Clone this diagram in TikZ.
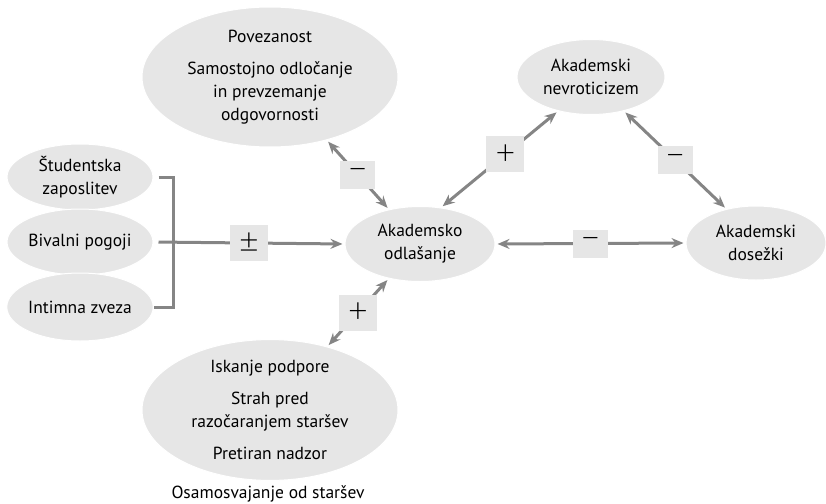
\documentclass[tikz,border=0pt]{standalone}
\usepackage{fontspec}
\setmainfont{PT Sans}
\newfontfamily\signfont{Lato Light}
\usetikzlibrary{shapes.geometric,arrows.meta}
\definecolor{ovalgray}{HTML}{E6E6E6}
\definecolor{linkgray}{HTML}{858585}
\tikzset{
    >={Stealth[length=12pt,width=10pt,inset=4pt]},
    oval/.style = {ellipse, fill=ovalgray, draw=white, line width=1pt, inner sep=0pt, align=center,
        font=\fontsize{17.5}{23}\selectfont},
    signbox/.style = {fill=ovalgray, inner sep=0pt, minimum width=38pt, minimum height=36pt,
        font=\signfont\fontsize{34}{34}\selectfont},
    minusbox/.style = {signbox, minimum width=35pt, minimum height=28pt},
    link/.style = {draw=linkgray, line width=3pt, shorten <=2pt, shorten >=2pt, <->},
    bar/.style = {draw=linkgray, line width=3pt}
}

\begin{document}
\begin{tikzpicture}[x=1pt,y=-1pt]
    \useasboundingbox (0,0) rectangle (826,503);

    \node[oval, minimum width=256pt, minimum height=140pt] (pov) at (270,77)
        {Povezanost\\[9pt]Samostojno odločanje\\in prevzemanje\\odgovornosti};
    \node[oval, minimum width=150pt, minimum height=75pt] (odl) at (420,244) {Akademsko\\odlašanje};
    \node[oval, minimum width=148pt, minimum height=75pt] (nev) at (591,77) {Akademski\\nevroticizem};
    \node[oval, minimum width=140pt, minimum height=74pt] (dos) at (756,243) {Akademski\\dosežki};

    \node[oval, minimum width=146pt, minimum height=66pt] (stu) at (80,177) {Študentska\\zaposlitev};
    \node[oval, minimum width=146pt, minimum height=66pt] (biv) at (80,242) {Bivalni pogoji};
    \node[oval, minimum width=146pt, minimum height=68pt] (int) at (80,307) {Intimna zveza};

    \node[oval, minimum width=256pt, minimum height=136pt] (osa) at (270,410)
        {Iskanje podpore\\[9pt]Strah pred\\razočaranjem staršev\\[9pt]Pretiran nadzor};
    \node[font=\fontsize{17.5}{23}\selectfont] (osalabel) at (268,494) {Osamosvajanje od staršev};

    \coordinate (brk) at (173,243);
    \draw[bar, shorten <=5pt] (stu.east) -| (brk) |- (int.east);
    \draw[bar, shorten <=5pt] (int.east) -- +(-5pt,0);
    \draw[link, ->, shorten <=5pt] (biv.east) -- node[signbox] (spm) {±} (odl.west);

    \draw[link] (pov) -- node[minusbox] (s1) {−} (odl);
    \draw[link] (odl.60) -- node[signbox, pos=0.55] (s2) {+} (nev.226);
    \draw[link] (nev.314) -- node[minusbox] (s3) {−} (dos.131);
    \draw[link] (odl.east) -- node[minusbox] (s4) {−} (dos.west);
    \draw[link] (osa) -- node[signbox] (s5) {+} (odl);

\end{tikzpicture}
\end{document}
